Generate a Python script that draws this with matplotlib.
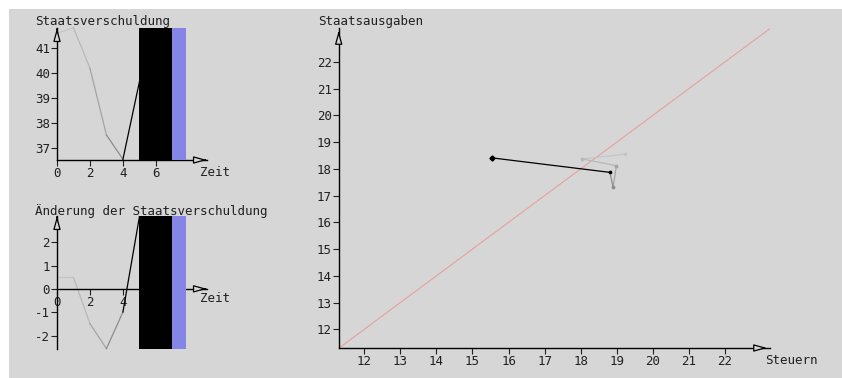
import numpy as np
import matplotlib
matplotlib.use("Agg")
import matplotlib.pyplot as plt
from matplotlib.patches import Rectangle

# time series of the state debt and its change
zeit = [0, 1, 2, 3, 4, 5]
schulden = [41.6, 41.82, 40.2, 37.53, 36.56, 39.66]
aenderung = [0.49, 0.49, -1.49, -2.56, -0.99, 3.09]
zeit_ticks = [0, 2, 4, 6]
schulden_ticks = [37, 38, 39, 40, 41]
aenderung_ticks = [-2, -1, 0, 1, 2]

# masked future region (black) and current step (blue)
block_schwarz = (5, 7)
block_blau = (7, 7.8)

# phase trajectory Steuern vs Staatsausgaben, oldest point first
steuern = [19.23, 18.05, 18.99, 18.90, 18.81, 15.55]
ausgaben = [18.55, 18.37, 18.12, 17.31, 17.87, 18.41]
phase_ticks = [12, 13, 14, 15, 16, 17, 18, 19, 20, 21, 22]
diag = [11.3, 23.25]

seg_grays = ["#c6c6c6", "#b8b8b8", "#a4a4a4", "#8c8c8c", "#000000"]

W, H = 842, 378
BG = "#d6d6d6"
FONT = "DejaVu Sans Mono"
plt.rcParams["font.family"] = FONT
plt.rcParams["font.size"] = 9
plt.rcParams["axes.unicode_minus"] = False

fig = plt.figure(figsize=(W / 100, H / 100), dpi=100)
fig.patch.set_facecolor("white")
fig.patches.append(Rectangle((9 / W, 0), 1, 1 - 9 / H, transform=fig.transFigure,
                             facecolor=BG, edgecolor="none", zorder=-10))


def px_axes(x0, y0, x1, y1):
    return fig.add_axes([x0 / W, 1 - y1 / H, (x1 - x0) / W, (y1 - y0) / H])


def ftext(x, y, s, **kw):
    fig.text(x / W, 1 - y / H, s, va="center", color="#202020", **kw)


def style(ax, zero_x=False):
    ax.set_facecolor("none")
    for s in ("top", "right"):
        ax.spines[s].set_visible(False)
    for s in ("left", "bottom"):
        ax.spines[s].set_linewidth(1.0)
    if zero_x:
        ax.spines["bottom"].set_position(("data", 0))
    ax.tick_params(direction="out", length=4, width=0.8, labelsize=9,
                   pad=1, colors="#202020")
    # hollow arrow heads at the ends of the axes
    xl, yl = ax.get_xlim(), ax.get_ylim()
    y_ax = 0 if zero_x else yl[0]
    head = dict(arrowstyle="-|>,head_length=0.8,head_width=0.22",
                fc=BG, ec="black", lw=0.9, mutation_scale=10)
    ax.annotate("", xy=(xl[1], y_ax), xytext=(xl[1] - 0.03 * (xl[1] - xl[0]), y_ax),
                arrowprops=head, annotation_clip=False)
    ax.annotate("", xy=(xl[0], yl[1]), xytext=(xl[0], yl[1] - 0.03 * (yl[1] - yl[0])),
                arrowprops=head, annotation_clip=False)


def zeitreihe(ax, werte, y_lo, y_hi, ticks, zero_x=False):
    ax.set_xlim(0, 9.1)
    ax.set_ylim(y_lo, y_hi)
    for i in range(len(zeit) - 1):
        ax.plot(zeit[i:i + 2], werte[i:i + 2], color=seg_grays[i], lw=0.9,
                clip_on=False, zorder=2)
    for (a, b), c in ((block_schwarz, "black"), (block_blau, "#8585e6")):
        ax.add_patch(Rectangle((a, y_lo), b - a, y_hi - y_lo, facecolor=c,
                               edgecolor="none", zorder=3))
    ax.set_xticks(zeit_ticks)
    ax.set_yticks(ticks)
    style(ax, zero_x)


# top left: Staatsverschuldung
ax1 = px_axes(57, 28, 207, 160)
zeitreihe(ax1, schulden, 36.53, 41.81, schulden_ticks)
ftext(35, 21, "Staatsverschuldung", ha="left")
ftext(200, 172, "Zeit", ha="left")

# bottom left: Änderung der Staatsverschuldung
ax2 = px_axes(57, 216, 207, 349)
zeitreihe(ax2, aenderung, -2.575, 3.12, aenderung_ticks, zero_x=True)
ftext(35, 211, "Änderung der Staatsverschuldung", ha="left")
ftext(200, 299, "Zeit", ha="left")

# right: phase diagram
ax3 = px_axes(338.7, 28, 770, 348)
ax3.set_xlim(11.29, 23.25)
ax3.set_ylim(11.30, 23.27)
ax3.plot(diag, diag, color="#e8a0a0", lw=0.8, zorder=1)
for i in range(len(steuern) - 1):
    ax3.plot(steuern[i:i + 2], ausgaben[i:i + 2], color=seg_grays[i], lw=0.9,
             marker="o", ms=1.6, zorder=2)
ax3.plot(steuern[-1], ausgaben[-1], marker="D", ms=2.6, color="black", zorder=3)
ax3.set_xticks(phase_ticks)
ax3.set_yticks(phase_ticks)
style(ax3)
ftext(318, 21, "Staatsausgaben", ha="left")
ftext(765, 360, "Steuern", ha="left")

fig.savefig("out.png", dpi=100, facecolor=fig.get_facecolor())
